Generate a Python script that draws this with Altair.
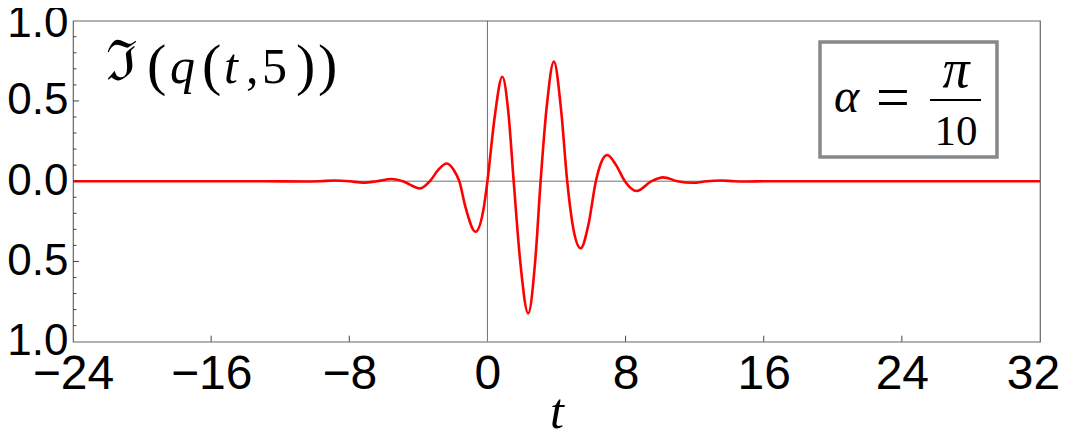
import altair as alt
import pandas as pd

# ---- data ----
t_vals = [-24, -13, -10.5, -9.7, -8.85, -8.0, -7.2, -6.4, -5.55, -4.9, -3.9, -3.33,
          -2.85, -2.36, -1.95, -1.63, -1.25, -0.69, -0.22, 0.0, 0.42, 0.86, 1.22,
          1.52, 1.9, 2.36, 2.78, 3.08, 3.42, 3.85, 4.27, 4.62, 5.0, 5.4, 5.85, 6.28,
          6.6, 6.94, 7.45, 7.96, 8.64, 9.5, 10.18, 11.0, 11.9, 12.7, 13.5, 14.3, 15.1,
          16, 32]
im_vals = [0.0, 0.0, -0.002, 0.0, 0.004, 0.0, -0.009, 0.0, 0.014, 0.0, -0.045, 0.0,
           0.07, 0.11, 0.07, 0.0, -0.17, -0.315, -0.17, 0.0, 0.40, 0.651, 0.42,
           0.0, -0.50, -0.823, -0.48, 0.0, 0.45, 0.745, 0.44, 0.0, -0.31, -0.418, -0.27, 0.0,
           0.12, 0.163, 0.10, 0.0, -0.061, 0.0, 0.024, 0.0, -0.010, 0.0, 0.004, 0.0, -0.002,
           0.0, 0.0]

x_label_vals = [-24, -16, -8, 0, 8, 16, 24, 32]
x_inner_ticks = [-16, -8, 8, 16, 24]
y_label_vals = [-1.0, -0.5, 0.0, 0.5, 1.0]
y_major_ticks = [-0.5, 0.0, 0.5]
y_minor_ticks = [-0.9, -0.8, -0.7, -0.6, -0.4, -0.3, -0.2, -0.1,
                 0.1, 0.2, 0.3, 0.4, 0.6, 0.7, 0.8, 0.9]

# ---- layout ----
W, H = 967, 321
OX, OY = 73, 20.7


def px(x):
    return x - OX


def py(y):
    return y - OY


xs = alt.Scale(domain=[-24, 32], nice=False, zero=False)
ys = alt.Scale(domain=[-1, 1], nice=False, zero=False)

x_axis = alt.Axis(values=x_label_vals,
                  labelExpr="(datum.value < 0 ? '\u2212' : '') + abs(datum.value)",
                  labelFont="Liberation Sans", labelFontSize=48, labelColor="black",
                  labelPadding=9, labelFlush=False, labelOverlap=False,
                  labelOffset={"condition": {"test": "datum.value == 32", "value": -7},
                               "value": 0},
                  labelBaseline="top", ticks=False, tickSize=0, domain=False,
                  grid=False, title=None)
y_axis = alt.Axis(values=y_label_vals,
                  labelExpr="format(abs(datum.value), '.1f')",
                  labelFont="Liberation Sans", labelFontSize=44, labelColor="black",
                  labelPadding=5, labelFlush=False, labelOverlap=False,
                  labelOffset={"condition": {"test": "datum.value == 1", "value": 3},
                               "value": 0},
                  labelBaseline="middle", ticks=False, tickSize=0, domain=False,
                  grid=False, title=None)


def X(field="t"):
    return alt.X(f"{field}:Q", scale=xs, axis=x_axis)


def Y(field="im"):
    return alt.Y(f"{field}:Q", scale=ys, axis=y_axis)


one = pd.DataFrame({"d": [0]})

curve_df = pd.DataFrame({"t": t_vals, "im": im_vals})

zero_h = alt.Chart(pd.DataFrame({"im": [0.0]})).mark_rule(
    color="#707070", strokeWidth=1).encode(y=Y())
zero_v = alt.Chart(pd.DataFrame({"t": [0.0]})).mark_rule(
    color="#707070", strokeWidth=1).encode(x=X())

curve = alt.Chart(curve_df).mark_line(
    color="#ff0000", strokeWidth=2.6, interpolate="monotone").encode(x=X(), y=Y())

y_minor = alt.Chart(pd.DataFrame({"im": y_minor_ticks})).mark_rule(
    color="#444444", strokeWidth=1).encode(y=Y(), x=alt.value(0), x2=alt.value(3.5))
y_major = alt.Chart(pd.DataFrame({"im": y_major_ticks})).mark_rule(
    color="#444444", strokeWidth=1).encode(y=Y(), x=alt.value(0), x2=alt.value(6))
x_ticks = alt.Chart(pd.DataFrame({"t": x_inner_ticks})).mark_rule(
    color="#444444", strokeWidth=1).encode(x=X(), y=alt.value(H), y2=alt.value(H - 6))


def label(text, x, y, size, italic=False, align="left",
          font="Liberation Serif, DejaVu Serif"):
    return alt.Chart(one).mark_text(
        text=text, font=font, fontSize=size,
        fontStyle="italic" if italic else "normal",
        align=align, baseline="alphabetic", color="black"
    ).encode(x=alt.value(px(x)), y=alt.value(py(y)))


# top-left formula  ℑ(q(t,5))
formula = [
    label("\u2111", 106, 80, 56, font="DejaVu Serif"),
    label("(", 147, 84, 58),
    label("q", 170, 83, 50, italic=True),
    label("(", 202, 84, 58),
    label("t", 224, 83, 50, italic=True),
    label(",", 246, 83, 50),
    label("5", 262, 83, 50),
    label(")", 296, 84, 58),
    label(")", 318, 84, 58),
]

# legend box  α = π/10
box = alt.Chart(one).mark_rect(fill="white", stroke="#888888", strokeWidth=3.5).encode(
    x=alt.value(px(820)), x2=alt.value(px(997)), y=alt.value(py(42)), y2=alt.value(py(157)))
frac_bar = alt.Chart(one).mark_rule(color="black", strokeWidth=2).encode(
    x=alt.value(px(930)), x2=alt.value(px(981)), y=alt.value(py(100)))
legend = [
    box,
    label("\u03b1", 834, 112, 48, italic=True),
    label("=", 893, 117, 60, align="center"),
    label("\u03c0", 956, 87, 54, italic=True, align="center"),
    frac_bar,
    label("10", 956, 145, 43, align="center"),
]

t_title = label("t", 557, 428, 50, italic=True, align="center")

chart = alt.layer(
    zero_h, zero_v, curve, y_minor, y_major, x_ticks, *formula, *legend, t_title
).properties(
    width=W, height=H,
    autosize=alt.AutoSizeParams(type="none"),
    padding={"left": 65, "top": 12.7, "right": 19, "bottom": 92},
).configure_view(
    stroke="#666666", strokeWidth=1.2
)

chart.save("out.html", embed_options={"renderer": "svg", "actions": False})
